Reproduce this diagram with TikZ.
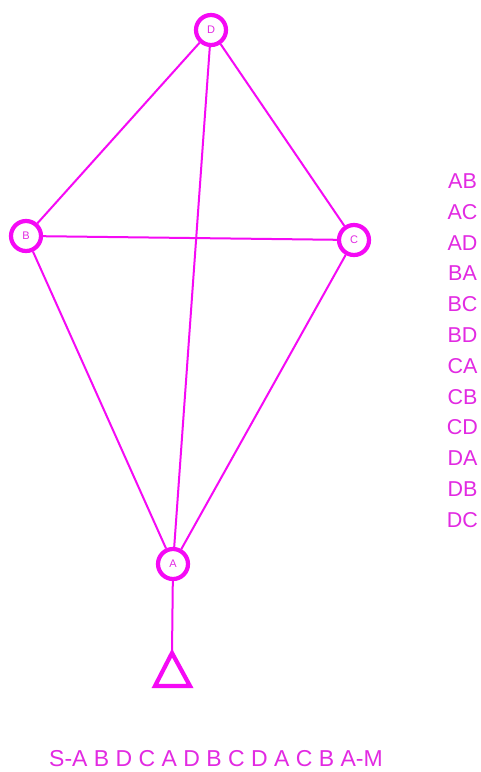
\documentclass[tikz,border=0pt]{standalone}
\usepackage{fontspec}
\setmainfont{Liberation Sans}
\definecolor{mag}{HTML}{F50AF5}
\definecolor{magtext}{HTML}{E22AE2}
\begin{document}
\begin{tikzpicture}[x=1pt,y=-1pt,
  vert/.style={circle,draw=mag,line width=4.2pt,minimum size=30pt,inner sep=0pt,font=\fontsize{11}{12}\selectfont,text=magtext,fill=white},
  edge/.style={draw=mag,line width=2pt},
  lbl/.style={text=magtext,font=\fontsize{21.5}{22}\selectfont,inner sep=0pt},
  seqlbl/.style={text=magtext,font=\fontsize{23}{24}\selectfont,inner sep=0pt}]
\useasboundingbox[fill=white] (0,0) rectangle (480,772);
\node[vert] (D) at (211,30) {D};
\node[vert] (B) at (26,236) {B};
\node[vert] (C) at (354,240) {C};
\node[vert] (A) at (173,564) {A};
\draw[edge] (D) -- (B);
\draw[edge] (D) -- (C);
\draw[edge] (D) -- (A);
\draw[edge] (B) -- (C);
\draw[edge] (B) -- (A);
\draw[edge] (C) -- (A);
\coordinate (T) at (172,653);
\draw[edge] (A) -- (T);
\draw[draw=mag,line width=4.2pt,line join=miter] (T) -- (190,686) -- (155,686) -- cycle;
\foreach \t [count=\i from 0] in {AB,AC,AD,BA,BC,BD,CA,CB,CD,DA,DB,DC}
  \node[lbl] (L\i) at (462.5,{181+30.8*\i}) {\t};
\node[seqlbl] (seq) at (216,759) {S-A B D C A D B C D A C B A-M};
\end{tikzpicture}
\end{document}
